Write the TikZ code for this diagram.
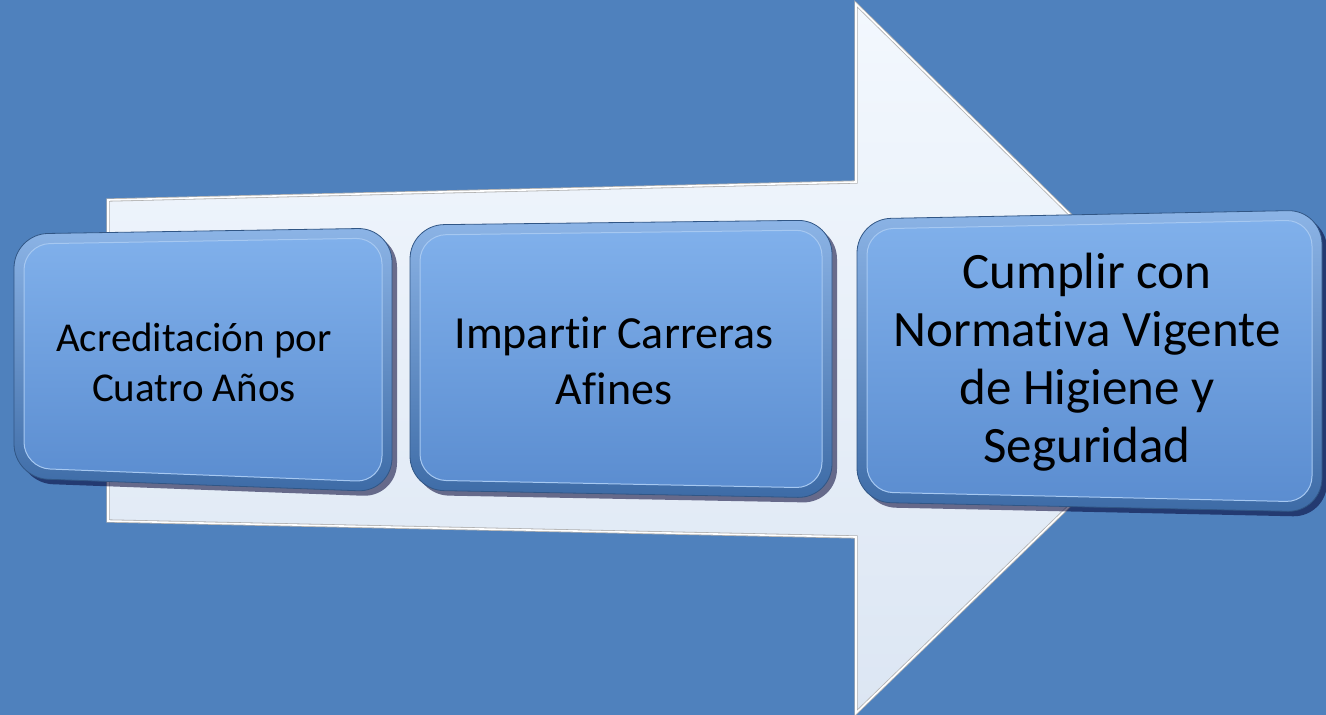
\documentclass[tikz,border=0pt]{standalone}
\usepackage{fontspec}
\setmainfont{Carlito}[Ligatures=NoCommon]
\usepackage{xcolor}
\usepackage{tikz}
\usetikzlibrary{calc,positioning}
\definecolor{bgblue}{HTML}{4F81BD}
\definecolor{arrowtop}{HTML}{F3F8FE}
\definecolor{arrowbot}{HTML}{DCE6F3}
\definecolor{rimtop}{HTML}{8CB4E6}
\definecolor{rimbot}{HTML}{3D6BA6}
\definecolor{facetop}{HTML}{80B0EB}
\definecolor{facebot}{HTML}{5B8DD0}
\tikzset{
  bigarrow/.style={top color=arrowtop, bottom color=arrowbot, draw=gray!60,
  double=white, double distance=1.6pt, line width=0.8pt},
  drop/.style={fill=black!80!blue, opacity=.55, rounded corners=34pt},
  rim/.style={top color=rimtop, bottom color=rimbot, draw=rimbot!80!black,
  line width=0.8pt, rounded corners=34pt},
  face/.style={top color=facetop, bottom color=facebot, draw=white!30!facetop,
  line width=1pt, rounded corners=26pt},
  lbl/.style={align=center, text=black, inner sep=0pt},
  small/.style={font=\fontsize{41}{50}\selectfont},
  mid/.style={font=\fontsize{46}{56}\selectfont},
  large/.style={font=\fontsize{51}{58}\selectfont}
}
\begin{document}
\begin{tikzpicture}[x=1pt,y=-1pt]
    \fill[bgblue] (0,0) rectangle (1326,715);
    \useasboundingbox (0,0) rectangle (1326,715);
    % arrow behind the boxes
    \path[bigarrow] (108,200) -- (856,182) -- (856,4) -- (1219,361)
      -- (856,713) -- (856,537) -- (108,521) -- cycle;
    % corners of the boxes
    \coordinate (b1tl) at (14,234);
    \coordinate (b1tr) at (392,228);
    \coordinate (b1br) at (392,492);
    \coordinate (b1bl) at (14,478);
    \coordinate (b2tl) at (410,225);
    \coordinate (b2tr) at (832,220);
    \coordinate (b2br) at (832,498);
    \coordinate (b2bl) at (410,490);
    \coordinate (b3tl) at (857,219);
    \coordinate (b3tr) at (1322,210);
    \coordinate (b3br) at (1322,512);
    \coordinate (b3bl) at (857,502);
    \path[drop] ($(b1tl)+(5,5)$) -- ($(b1tr)+(5,5)$) -- ($(b1br)+(5,5)$)
      -- ($(b1bl)+(5,5)$) -- cycle;
    \path[rim] (b1tl) -- (b1tr) -- (b1br) -- (b1bl) -- cycle;
    \path[face] ($(b1tl)+(10,10)$) -- ($(b1tr)+(-10,10)$)
      -- ($(b1br)+(-10,-10)$) -- ($(b1bl)+(10,-10)$) -- cycle;
    \path[drop] ($(b2tl)+(5,5)$) -- ($(b2tr)+(5,5)$) -- ($(b2br)+(5,5)$)
      -- ($(b2bl)+(5,5)$) -- cycle;
    \path[rim] (b2tl) -- (b2tr) -- (b2br) -- (b2bl) -- cycle;
    \path[face] ($(b2tl)+(10,10)$) -- ($(b2tr)+(-10,10)$)
      -- ($(b2br)+(-10,-10)$) -- ($(b2bl)+(10,-10)$) -- cycle;
    \path[drop] ($(b3tl)+(5,5)$) -- ($(b3tr)+(5,5)$) -- ($(b3br)+(5,5)$)
      -- ($(b3bl)+(5,5)$) -- cycle;
    \path[rim] (b3tl) -- (b3tr) -- (b3br) -- (b3bl) -- cycle;
    \path[face] ($(b3tl)+(10,10)$) -- ($(b3tr)+(-10,10)$)
      -- ($(b3br)+(-10,-10)$) -- ($(b3bl)+(10,-10)$) -- cycle;
    % texts
    \node (A) [lbl,small] at (194,362) {Acreditación por\\Cuatro Años};
    \node (B) [lbl,mid] at (614,361) {Impartir Carreras\\Afines};
    \node (C) [lbl,large] at (1087,362)
      {Cumplir con\\Normativa Vigente\\de Higiene y\\Seguridad};
\end{tikzpicture}
\end{document}
